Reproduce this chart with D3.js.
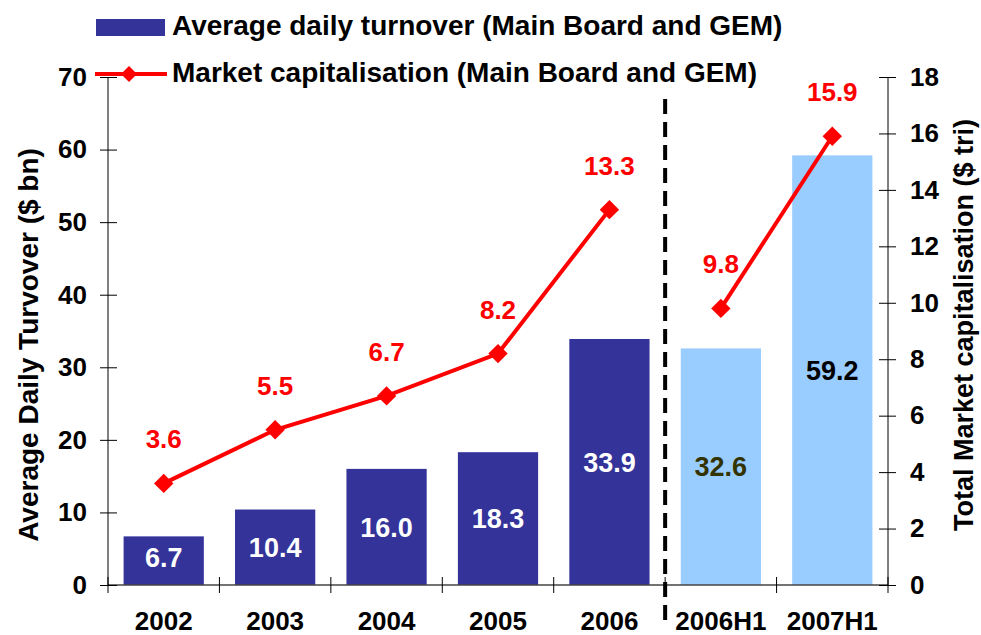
<!DOCTYPE html>
<html>
<head>
<meta charset="utf-8">
<script src="https://cdn.jsdelivr.net/npm/d3@7"></script>
<style>
    body { margin: 0; background: #fff; }
    text { font-family: "Liberation Sans", Arial, sans-serif; font-weight: bold; }
</style>
</head>
<body>
<div id="chart"></div>
<script>
var categories = ["2002", "2003", "2004", "2005", "2006", "2006H1", "2007H1"];
var turnover = [6.7, 10.4, 16.0, 18.3, 33.9, 32.6, 59.2];
var marketCap = [3.6, 5.5, 6.7, 8.2, 13.3, 9.8, 15.9];
var leftTicks = [0, 10, 20, 30, 40, 50, 60, 70];
var rightTicks = [0, 2, 4, 6, 8, 10, 12, 14, 16, 18];
var fullYears = 5; // first five are full years, rest are half years

var svg = d3.select("#chart").append("svg")
        .attr("width", 981)
        .attr("height", 635),
    margin = {top: 77, right: 93, bottom: 50, left: 108},
    width = 981 - margin.left - margin.right,
    height = 635 - margin.top - margin.bottom,
    g = svg.append("g").attr("transform", "translate(" + margin.left + "," + margin.top + ")");

var x = d3.scaleBand()
    .domain(categories)
    .range([0, width])
    .paddingInner(0.28)
    .paddingOuter(0.14);

var y = d3.scaleLinear().domain([0, 70]).range([height, 0]);
var y2 = d3.scaleLinear().domain([0, 18]).range([height, 0]);

var step = x.step();

// bars
g.selectAll(".bar")
    .data(categories)
    .enter().append("rect")
    .attr("class", "bar")
    .attr("x", function(d) { return x(d); })
    .attr("width", x.bandwidth())
    .attr("y", function(d, i) { return y(turnover[i]); })
    .attr("height", function(d, i) { return height - y(turnover[i]); })
    .attr("fill", function(d, i) { return i < fullYears ? "#333399" : "#99ccff"; });

// bar labels
var barLabelColor = ["#fff", "#fff", "#fff", "#fff", "#fff", "#333300", "#000"];
g.selectAll(".barLabel")
    .data(categories)
    .enter().append("text")
    .attr("x", function(d) { return x(d) + x.bandwidth() / 2; })
    .attr("y", function(d, i) { return Math.min((y(turnover[i]) + height) / 2, height - 28); })
    .attr("dy", "0.36em")
    .attr("text-anchor", "middle")
    .attr("font-size", "27px")
    .attr("fill", function(d, i) { return barLabelColor[i]; })
    .text(function(d, i) { return turnover[i].toFixed(1); });

// x axis line + ticks between categories
g.append("line")
    .attr("x1", 0).attr("x2", width)
    .attr("y1", height).attr("y2", height)
    .attr("stroke", "#444").attr("stroke-width", 1.3);

d3.range(categories.length + 1).forEach(function(i) {
    g.append("line")
        .attr("x1", i * step).attr("x2", i * step)
        .attr("y1", height - 8).attr("y2", height + 8)
        .attr("stroke", "#000").attr("stroke-width", 1);
});

g.selectAll(".xLabel")
    .data(categories)
    .enter().append("text")
    .attr("x", function(d) { return x(d) + x.bandwidth() / 2; })
    .attr("y", height + 45)
    .attr("text-anchor", "middle")
    .attr("font-size", "26px")
    .attr("fill", "#000")
    .text(function(d) { return d; });

// left axis
var leftAxis = g.append("g").call(d3.axisLeft(y).tickValues(leftTicks).tickSize(8).tickPadding(13));
leftAxis.selectAll(".tick line").attr("x1", 9).attr("x2", -8);
leftAxis.select(".domain").attr("d", "M0," + height + "V0");
leftAxis.selectAll("text").attr("font-size", "26px").attr("font-family", "Liberation Sans, Arial, sans-serif").attr("fill", "#000");

// right axis
var rightAxis = g.append("g")
    .attr("transform", "translate(" + width + ",0)")
    .call(d3.axisRight(y2).tickValues(rightTicks).tickSize(8).tickPadding(14));
rightAxis.selectAll(".tick line").attr("x1", -9).attr("x2", 8);
rightAxis.select(".domain").attr("d", "M0," + height + "V0");
rightAxis.selectAll("text").attr("font-size", "26px").attr("font-family", "Liberation Sans, Arial, sans-serif").attr("fill", "#000");

// axis titles
g.append("text")
    .attr("transform", "translate(-70," + (height / 2 + 14) + ") rotate(-90)")
    .attr("text-anchor", "middle")
    .attr("font-size", "28px")
    .text("Average Daily Turvover ($ bn)");

g.append("text")
    .attr("transform", "translate(" + (width + 85) + "," + (height / 2 - 6) + ") rotate(-90)")
    .attr("text-anchor", "middle")
    .attr("font-size", "27px")
    .text("Total Market capitalisation ($ tri)");

// dashed separator
g.append("line")
    .attr("x1", fullYears * step).attr("x2", fullYears * step)
    .attr("y1", 22).attr("y2", height + 42)
    .attr("stroke", "#000").attr("stroke-width", 4)
    .attr("stroke-dasharray", "15,8");

// market cap lines (two segments)
var pts = categories.map(function(d, i) {
    return {x: x(d) + x.bandwidth() / 2, y: y2(marketCap[i]), v: marketCap[i]};
});
var line = d3.line().x(function(d) { return d.x; }).y(function(d) { return d.y; });

[pts.slice(0, fullYears), pts.slice(fullYears)].forEach(function(seg) {
    g.append("path")
        .attr("d", line(seg))
        .attr("fill", "none")
        .attr("stroke", "#ff0000")
        .attr("stroke-width", 4);
});

var diamond = d3.symbol().type(d3.symbolDiamond2).size(240);
g.selectAll(".pt")
    .data(pts)
    .enter().append("path")
    .attr("transform", function(d) { return "translate(" + d.x + "," + d.y + ")"; })
    .attr("d", diamond)
    .attr("fill", "#ff0000");

g.selectAll(".ptLabel")
    .data(pts)
    .enter().append("text")
    .attr("x", function(d) { return d.x; })
    .attr("y", function(d) { return d.y - 35; })
    .attr("text-anchor", "middle")
    .attr("font-size", "26px")
    .attr("fill", "#ff0000")
    .text(function(d) { return d.v.toFixed(1); });

// legend
var legend = svg.append("g");
legend.append("rect")
    .attr("x", 96).attr("y", 19)
    .attr("width", 69).attr("height", 17)
    .attr("fill", "#333399");
legend.append("text")
    .attr("x", 172).attr("y", 35)
    .attr("font-size", "28px")
    .text("Average daily turnover (Main Board and GEM)");

legend.append("line")
    .attr("x1", 95).attr("x2", 167)
    .attr("y1", 74).attr("y2", 74)
    .attr("stroke", "#ff0000").attr("stroke-width", 4);
legend.append("path")
    .attr("transform", "translate(129,74)")
    .attr("d", d3.symbol().type(d3.symbolDiamond2).size(165))
    .attr("fill", "#ff0000");
legend.append("text")
    .attr("x", 172).attr("y", 82)
    .attr("font-size", "28px")
    .text("Market capitalisation (Main Board and GEM)");
</script>
</body>
</html>
